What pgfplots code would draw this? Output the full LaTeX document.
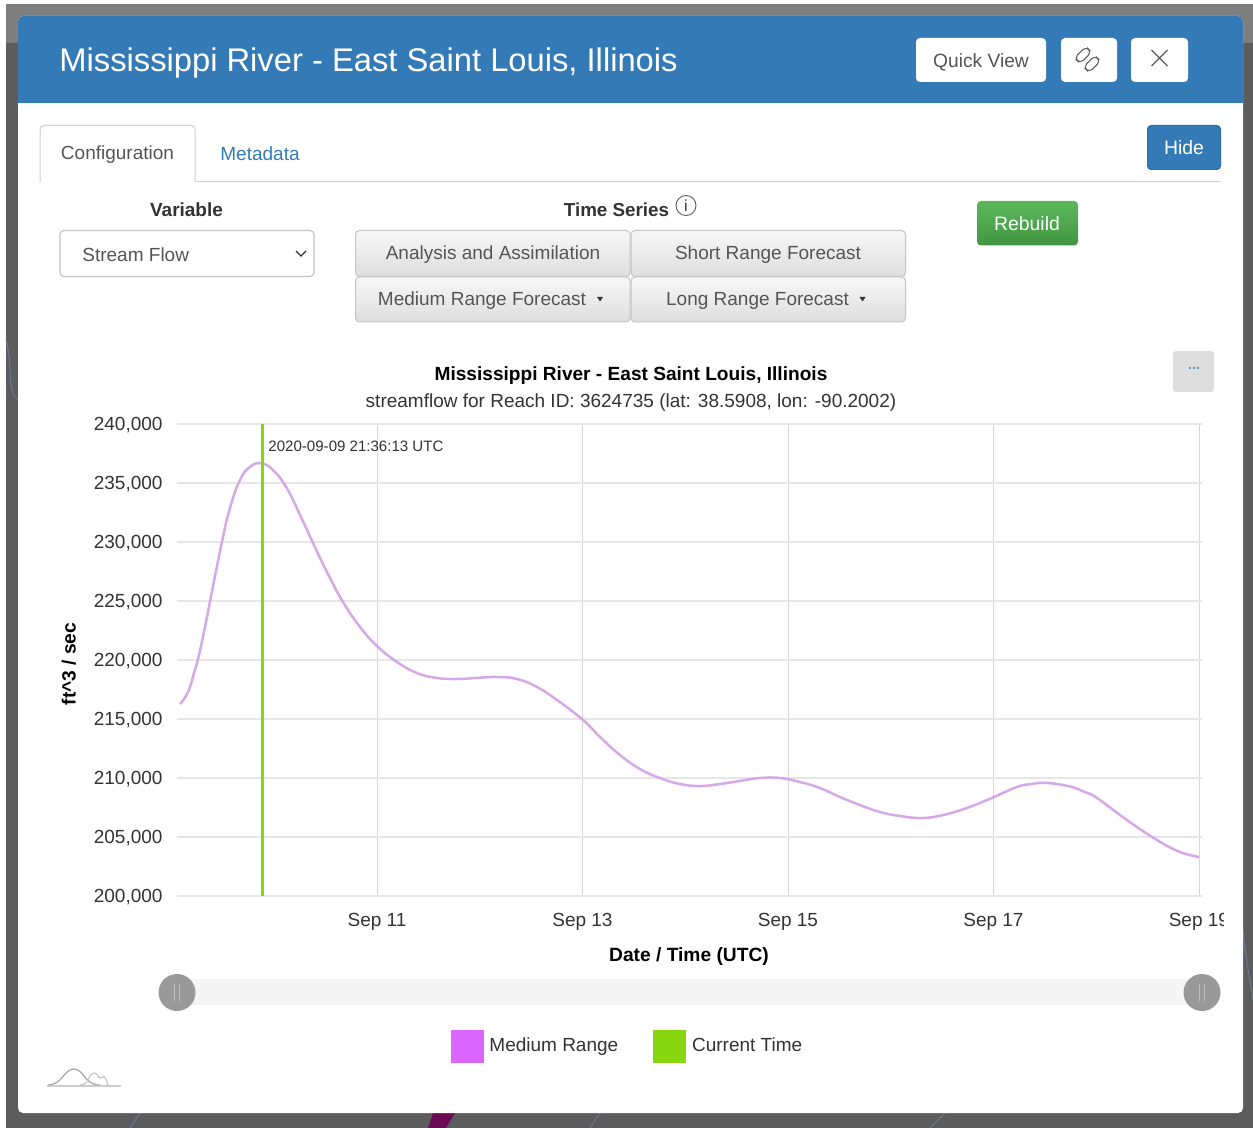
\documentclass[border=0pt]{standalone}
\usepackage{pgfplots}
\pgfplotsset{compat=1.18}
\usepackage{fontspec}
\setmainfont{Liberation Sans}
\definecolor{hdr}{HTML}{337AB7}
\definecolor{txt}{HTML}{555555}
\definecolor{dark}{HTML}{333333}
\definecolor{gridc}{HTML}{E6E6E6}
\definecolor{curve}{HTML}{D5A9E6}
\definecolor{legp}{HTML}{DA66FF}
\definecolor{cur}{HTML}{88D60F}
\definecolor{bgtop}{HTML}{7E7E7E}
\definecolor{bgdark}{HTML}{5C5C5C}
\definecolor{greent}{HTML}{5CB85C}
\definecolor{greenb}{HTML}{419641}
\definecolor{stripe}{HTML}{6B0A55}
\definecolor{mapline}{HTML}{6E7596}
\newcommand{\fs}[1]{\fontsize{#1}{#1}\selectfont}
\pgfplotstableread{
x y
9.083 216270
9.131 216820
9.180 217710
9.219 218900
9.261 220170
9.326 222800
9.391 225680
9.489 229920
9.569 232880
9.667 235260
9.764 236360
9.868 236670
9.988 236100
10.121 234580
10.251 232290
10.377 229920
10.513 227460
10.669 224920
10.835 222800
11.000 221190
11.195 219830
11.389 218900
11.584 218480
11.779 218390
11.973 218480
12.168 218560
12.363 218390
12.557 217710
12.752 216610
13.005 214920
13.170 213480
13.365 211950
13.560 210760
13.754 210000
13.949 209490
14.144 209320
14.338 209490
14.533 209750
14.727 210000
14.922 210000
15.117 209660
15.311 209150
15.506 208390
15.701 207710
15.895 207120
16.090 206780
16.304 206610
16.509 206860
16.742 207460
16.985 208310
17.229 209240
17.375 209490
17.521 209580
17.745 209280
17.891 208800
18.007 208310
18.299 206440
18.591 204750
18.815 203730
19.000 203310
}\medium
\begin{document}
\begin{tikzpicture}[x=0.5pt,y=-0.5pt]
\path[use as bounding box] (0,0) rectangle (1253,1128);
% page backdrop
\fill[white] (0,0) rectangle (1253,1128);
\fill[bgdark] (6,4) rectangle (1253,1128);
\fill[bgtop] (6,4) rectangle (1253,43);
\draw[mapline,line width=0.5pt] (6,340) .. controls (14,370) and (6,390) .. (18,400);
\draw[mapline,line width=0.5pt] (1243,930) .. controls (1246,960) and (1250,980) .. (1253,1000);
\draw[mapline,line width=0.5pt] (130,1128) -- (140,1113) (590,1128) -- (600,1113) (930,1128) -- (945,1113);
\fill[stripe] (428,1128) -- (433,1113) -- (455,1113) -- (446,1128) -- cycle;
% modal
\fill[white,rounded corners=2.5pt] (18,16) rectangle (1243,1113);
\fill[hdr,rounded corners=2.5pt] (18,16) rectangle (1243,60);
\fill[hdr] (18,40) rectangle (1243,103);
\node[white,anchor=west,inner sep=0pt] at (59,63) {\fs{16.36}Mississippi River - East Saint Louis, Illinois};
% header buttons
\foreach \a/\b in {916/1046,1061/1117,1131/1188}
  \fill[white,rounded corners=2pt] (\a,38) rectangle (\b,82);
\node[txt,inner sep=0pt] at (981,62) {\fs{9.6}Quick View};
\begin{scope}[dark!80,line width=0.5pt,rounded corners=2.2pt]
\draw[rotate around={45:(1083,55)}] (1075,51) rectangle (1091,59);
\draw[rotate around={45:(1092,64)}] (1084,60) rectangle (1100,68);
\end{scope}
\draw[dark!80,line width=0.6pt] (1151.5,50) -- (1167.5,66) (1167.5,50) -- (1151.5,66);
% tabs
\draw[gridc!90!black,line width=0.5pt] (195,182) -- (1221,182);
\draw[gridc!90!black,line width=0.5pt,rounded corners=2pt] (40,182) -- (40,125.5) -- (195,125.5) -- (195,182);
\node[txt,inner sep=0pt] at (117.5,155) {\fs{9.5}Configuration};
\node[hdr,inner sep=0pt] at (260,154) {\fs{9.5}Metadata};
\fill[hdr!90!black,rounded corners=2pt] (1147,125) rectangle (1221,170);
\fill[hdr,rounded corners=2pt] (1148,126) rectangle (1220,169);
\node[white,inner sep=0pt] at (1184,147.5) {\fs{9.7}Hide};
% configuration
\node[dark,inner sep=0pt] at (186.5,209.5) {\fs{9.5}\bfseries Variable};
\node[dark,inner sep=0pt] at (616.5,209.5) {\fs{9.4}\bfseries Time Series};
\draw[dark!80,line width=0.45pt] (686,205.5) circle (10);
\node[dark,inner sep=0pt] at (686,205.5) {\fs{8}i};
\draw[gridc!85!black,line width=0.6pt,rounded corners=2pt] (60,230.5) rectangle (314,276.5);
\node[txt,inner sep=0pt,anchor=west] at (82,254.5) {\fs{9.5}Stream Flow};
\draw[dark,line width=0.7pt] (296,251) -- (301,256) -- (306,251);
\foreach \a/\b/\t/\u in {355.5/630/230.5/276.5,631/905.5/230.5/276.5,355.5/630/277/322,631/905.5/277/322}
  \draw[gridc!85!black,line width=0.5pt,rounded corners=2pt,top color=white!97!black,bottom color=black!13] (\a,\t) rectangle (\b,\u);
\node[txt,inner sep=0pt] at (493,254.5) {\fs{9.5}Analysis and Assimilation};
\node[txt,inner sep=0pt] at (768,254.5) {\fs{9.5}Short Range Forecast};
\node[txt,inner sep=0pt] at (482,300.5) {\fs{9.5}Medium Range Forecast};
\node[txt,inner sep=0pt] at (757.5,300.5) {\fs{9.5}Long Range Forecast};
\fill[dark] (597,297) -- (603,297) -- (600,301.5) -- cycle;
\fill[dark] (859.5,297) -- (865.5,297) -- (862.5,301.5) -- cycle;
\shade[top color=greent,bottom color=greenb,rounded corners=2pt] (977,201) rectangle (1078,245.5);
\node[white,inner sep=0pt] at (1027,223.5) {\fs{9.7}Rebuild};
% chart titles and menu
\fill[black!13,rounded corners=1.5pt] (1173,351) rectangle (1214,392);
\node[hdr!80,inner sep=0pt] at (1194,368) {\fs{7}\textbf{...}};
\node[black,inner sep=0pt] at (631,375.5) {\fs{9.55}\bfseries Mississippi River - East Saint Louis, Illinois};
\node[dark,inner sep=0pt] at (631,403) {\fs{9.5}streamflow for Reach ID: 3624735 (lat: 38.5908, lon: -90.2002)};
% the chart
\begin{axis}[
  at={(88.5pt,-448pt)},anchor=south west,
  scale only axis,width=512.5pt,height=236pt,
  xmin=9.0535,xmax=19.03,ymin=200000,ymax=240000,
  xtick={11,13,15,17,19},
  xticklabels={Sep 11,Sep 13,Sep 15,Sep 17,Sep 19},
  ytick={200000,205000,...,240000},
  scaled ticks=false,
  /pgf/number format/.cd,fixed,precision=0,1000 sep={,},assume math mode=true,
  /pgfplots/.cd,
  major tick length=0pt,
  xmajorgrids,ymajorgrids,
  grid style={gridc,line width=0.55pt},
  x grid style={black!16,line width=0.35pt},
  axis line style={draw=none},
  tick label style={font=\fs{9.5},text=dark},
  xticklabel style={yshift=-5pt},
  yticklabel style={xshift=-3.7pt,yshift=-0.5pt},
  xlabel={\fs{9.6}\bfseries Date / Time (UTC)},
  xlabel style={at={(axis description cs:0.4995,0)},anchor=center,yshift=-30.5pt,text=black},
  ylabel={\fs{9.6}\bfseries ft\textasciicircum 3 / sec},
  ylabel style={at={(axis description cs:-0.1054,0.4915)},anchor=center,text=black},
  legend columns=2,
  legend style={draw=none,fill=none,
    at={(axis description cs:0.4414,-0.3187)},anchor=center,font=\fs{9.5},text=dark,
    /tikz/every even column/.append style={column sep=14.5pt},inner sep=0pt,
    nodes={inner sep=3pt}},
]
\addplot[curve,line width=1.25pt,smooth,tension=0.75,forget plot] table[x=x,y=y]{\medium};
\addplot[cur,line width=1.3pt,forget plot] coordinates {(9.886,200000) (9.886,240000)};
\addlegendimage{legend image code/.code={\fill[legp] (0pt,-7.8pt) rectangle (16pt,7.8pt);}}
\addlegendentry{Medium Range}
\addlegendimage{legend image code/.code={\fill[cur] (0pt,-7.8pt) rectangle (16pt,7.8pt);}}
\addlegendentry{Current Time}
\node[anchor=west,inner sep=0pt,text=dark] at (axis cs:9.94,238080) {\fs{7.53}2020-09-09 21:36:13 UTC};
\end{axis}
% right edge clips the last tick label
\fill[white] (1224,905) rectangle (1243,940);
% slider
\fill[black!4] (177,979) rectangle (1202,1005);
\foreach \c in {177,1202}{
  \fill[black!40] (\c,992.5) circle (18.5);
  \draw[white!75!black,line width=0.35pt] (\c-2.5,984) -- (\c-2.5,1001) (\c+2.5,984) -- (\c+2.5,1001);
}
% logo
\draw[black!20,line width=0.7pt] (47,1086) -- (121,1086);
\draw[black!35,line width=0.6pt] (48,1085) .. controls (62,1085) and (64,1069) .. (74,1069) .. controls (84,1069) and (84,1085) .. (100,1085);
\draw[black!22,line width=0.6pt] (80,1085) .. controls (90,1085) and (88,1073) .. (94,1073) .. controls (98,1073) and (98,1078) .. (100,1078) .. controls (104,1078) and (104,1072) .. (108,1085);
\end{tikzpicture}
\end{document}
